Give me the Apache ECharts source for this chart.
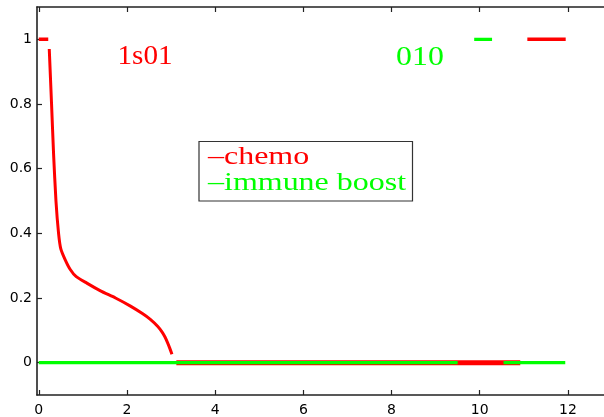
<!DOCTYPE html>
<html>
<head>
<meta charset="utf-8">
<script src="https://cdn.jsdelivr.net/npm/echarts@6/dist/echarts.min.js"></script>
<style>
  html, body { margin: 0; padding: 0; background: #fff; }
  #chart { width: 604px; height: 417px; }
</style>
</head>
<body>
<div id="chart"></div>
<script>
// Axis ticks
const xTicks = [0, 2, 4, 6, 8, 10, 12];
const yTicks = [0, 0.2, 0.4, 0.6, 0.8, 1];

// Chemo dose: decaying curve after the initial full dose
const chemoCurve = [
  [0.238, 0.97], [0.29, 0.80], [0.336, 0.645], [0.39, 0.50],
  [0.449, 0.40], [0.50, 0.352], [0.60, 0.318], [0.71, 0.289], [0.85, 0.266],
  [1.09, 0.246], [1.40, 0.222], [1.74, 0.200], [2.08, 0.175], [2.35, 0.152],
  [2.53, 0.134], [2.70, 0.112], [2.79, 0.096], [2.86, 0.080], [2.92, 0.062],
  [2.97, 0.045], [3.02, 0.026]
];
// Chemo switched fully on (level 1) and off (level 0), as [start, end] intervals
const chemoOn = [[0, 0.215], [11.08, 11.95]];
const chemoOff = [[3.12, 10.92]];
// Immune boost switched off (level 0) and on (level 1)
const boostOff = [[0, 9.5], [10.54, 11.94]];
const boostOn = [[9.875, 10.28]];

// Turn [start, end] intervals at a given level into a broken polyline
function segments(intervals, level) {
  const out = [];
  intervals.forEach(function (iv, i) {
    if (i > 0) out.push([null, null]);
    out.push([iv[0], level], [iv[1], level]);
  });
  return out;
}

const RED = '#ff0000';
const GREEN = '#00ff00';
const AXIS = '#222';
const tickFont = { fontFamily: 'DejaVu Sans', fontSize: 14, color: '#000' };

function axisCommon(ticks, showLabel, pos) {
  return {
    type: 'value',
    position: pos,
    axisLine: { show: true, onZero: false, lineStyle: { color: AXIS, width: 1.6 } },
    axisTick: { show: true, inside: true, length: 5, customValues: ticks, lineStyle: { color: AXIS, width: 1.2 } },
    axisLabel: Object.assign({
      show: showLabel,
      customValues: ticks,
      formatter: function (v) { return String(v); }
    }, tickFont),
    splitLine: { show: false }
  };
}

const chart = echarts.init(document.getElementById('chart'), null, { renderer: 'canvas' });

const xBottom = Object.assign(axisCommon(xTicks, true, 'bottom'), { min: -0.04, max: 13 });
xBottom.axisLabel.margin = 8;
const xTop = Object.assign(axisCommon(xTicks, false, 'top'), { min: -0.04, max: 13 });
const yLeft = Object.assign(axisCommon(yTicks, true, 'left'), { min: -0.1, max: 1.1 });
yLeft.axisLabel.margin = 5;
const yRight = Object.assign(axisCommon(yTicks, false, 'right'), { min: -0.1, max: 1.1 });

const serif = 'Liberation Serif';

chart.setOption({
  animation: false,
  backgroundColor: '#fff',
  // the plot box runs a little past the right edge of the canvas
  grid: { left: 37, top: 7, width: 575, height: 388, outerBoundsMode: 'none', containLabel: false },
  xAxis: [xBottom, xTop],
  yAxis: [yLeft, yRight],
  series: [
    {
      name: 'chemo',
      type: 'line',
      data: segments(chemoOff, 0),
      symbol: 'none',
      connectNulls: false,
      lineStyle: { color: RED, width: 5, cap: 'butt' },
      z: 2
    },
    {
      name: 'immune boost',
      type: 'line',
      data: segments(boostOff, 0).concat([[null, null]], segments(boostOn, 1)),
      symbol: 'none',
      connectNulls: false,
      lineStyle: { color: GREEN, width: 3.3, cap: 'butt' },
      z: 3
    },
    {
      name: 'chemo',
      type: 'line',
      data: segments(chemoOn, 1),
      symbol: 'none',
      connectNulls: false,
      lineStyle: { color: RED, width: 3.5, cap: 'butt' },
      z: 4
    },
    {
      name: 'chemo',
      type: 'line',
      data: chemoCurve,
      symbol: 'none',
      smooth: 0.2,
      lineStyle: { color: RED, width: 3, cap: 'butt' },
      z: 4
    }
  ],
  graphic: [
    {
      type: 'text', x: 145, y: 57, scaleX: 1.08, z: 10,
      style: { text: '1s01', fill: RED, font: '27px "' + serif + '"', align: 'center', verticalAlign: 'middle' }
    },
    {
      type: 'text', x: 420, y: 58, scaleX: 1.18, z: 10,
      style: { text: '010', fill: GREEN, font: '27px "' + serif + '"', align: 'center', verticalAlign: 'middle' }
    },
    {
      type: 'rect', z: 10,
      shape: { x: 199, y: 141.5, width: 213.5, height: 59.5 },
      style: { fill: '#fff', stroke: '#333', lineWidth: 1.2 }
    },
    {
      type: 'text', x: 208, y: 157, scaleX: 1.23, z: 11,
      style: { text: '\u2013chemo', fill: RED, font: '26px "' + serif + '"', align: 'left', verticalAlign: 'middle' }
    },
    {
      type: 'text', x: 208, y: 183.5, scaleX: 1.23, z: 11,
      style: { text: '\u2013immune boost', fill: GREEN, font: '26px "' + serif + '"', align: 'left', verticalAlign: 'middle' }
    }
  ]
});
</script>
</body>
</html>
